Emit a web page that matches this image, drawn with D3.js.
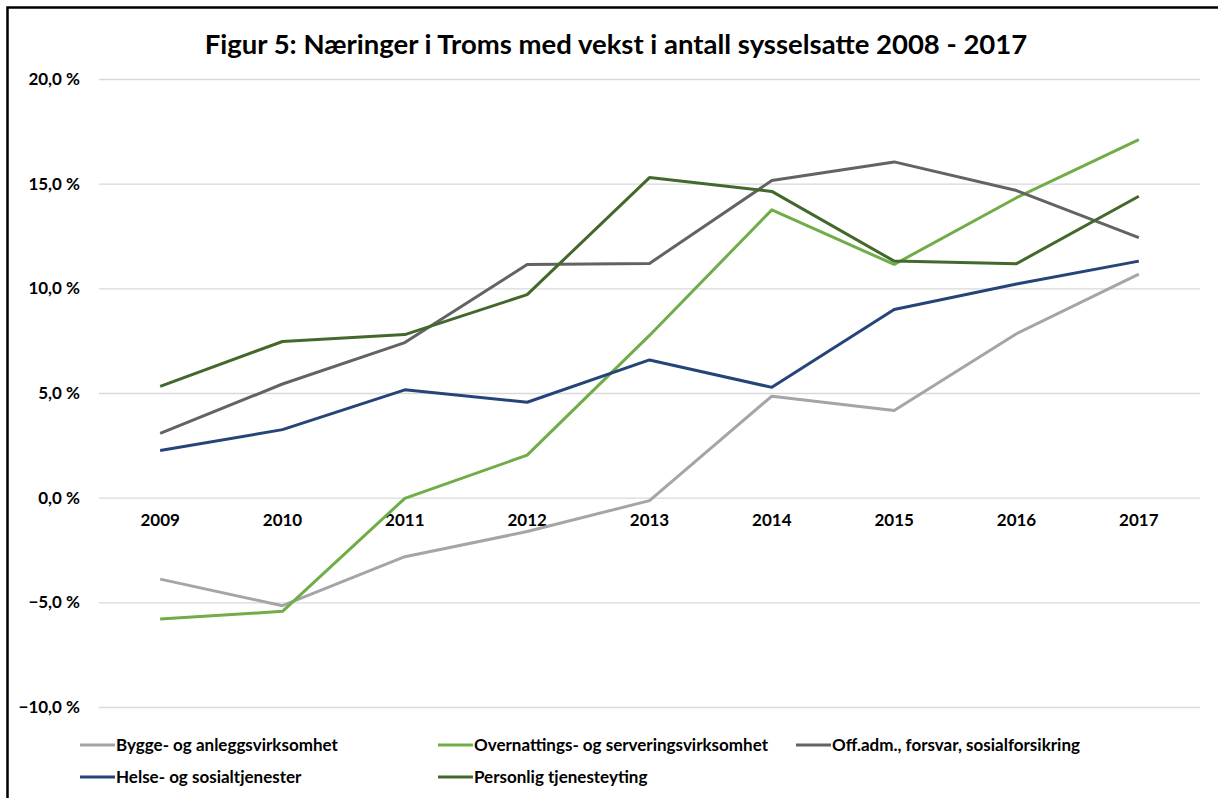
<!DOCTYPE html>
<html><head><meta charset="utf-8">
<script src="https://cdn.jsdelivr.net/npm/d3@7"></script>
<style>body{margin:0;background:#fff}svg{display:block}text{font-family:Lato,"Open Sans",sans-serif;font-weight:bold;fill:#000}</style>
</head><body><svg id="c" width="1218" height="798"></svg>
<script>
const years = ["2009","2010","2011","2012","2013","2014","2015","2016","2017"];
const seriesNames = ["Bygge- og anleggsvirksomhet","Overnattings- og serveringsvirksomhet","Off.adm., forsvar, sosialforsikring","Helse- og sosialtjenester","Personlig tjenesteyting"];
const bygge = [-3.89,-5.16,-2.82,-1.62,-0.14,4.85,4.16,7.83,10.68];
const overnatting = [-5.8,-5.43,-0.03,2.03,7.75,13.75,11.14,14.33,17.1];
const offadm = [3.07,5.43,7.41,11.14,11.19,15.15,16.04,14.67,12.42];
const helse = [2.25,3.25,5.15,4.56,6.58,5.27,8.99,10.21,11.3];
const personlig = [5.32,7.46,7.79,9.70,15.29,14.63,11.3,11.18,14.4];
const yTicks = [-10,-5,0,5,10,15,20];
const colors = ["#a5a5a5","#70ad47","#636363","#264478","#43682b"];
const allSeries = [bygge, overnatting, offadm, helse, personlig];

const svg = d3.select("#c");
svg.append("rect").attr("x",7.5).attr("y",7.5).attr("width",1240).attr("height",820)
  .attr("fill","none").attr("stroke","#000").attr("stroke-width",2.5);

const x = d3.scaleBand().domain(years).range([99,1200]);
const y = d3.scaleLinear().domain([-10,20]).range([707,79]);

svg.append("text").attr("x",616).attr("y",54).attr("text-anchor","middle")
  .style("font-size","27.5px").text("Figur 5: Næringer i Troms med vekst i antall sysselsatte 2008 - 2017");

const fmt = v => d3.format(".1f")(v).replace(".",",") + " %";
const yAxis = svg.append("g").attr("transform","translate(99,0)")
  .call(d3.axisLeft(y).tickValues(yTicks).tickSize(-1101).tickFormat(fmt));
yAxis.select(".domain").remove();
yAxis.selectAll("line").attr("stroke","#d9d9d9").attr("stroke-width",1.3);
yAxis.selectAll("text").attr("x",-19).style("font-size","17px").style("font-family","Lato,sans-serif");

const xAxis = svg.append("g").attr("transform",`translate(0,${y(0)})`)
  .call(d3.axisBottom(x).tickSize(0));
xAxis.select(".domain").remove();
xAxis.selectAll("text").attr("dy","25px").style("font-size","17px").style("font-family","Lato,sans-serif");

const line = d3.line().x((d,i)=>x(years[i])+x.bandwidth()/2).y(d=>y(d));
allSeries.forEach((s,k)=>{
  svg.append("path").datum(s).attr("d",line).attr("fill","none")
    .attr("stroke",colors[k]).attr("stroke-width",3).attr("stroke-linejoin","round");
});

const legPos = [[80,745],[438,745],[796,745],[80,777],[438,777]];
seriesNames.forEach((n,k)=>{
  const [lx,ly] = legPos[k];
  svg.append("line").attr("x1",lx).attr("x2",lx+35).attr("y1",ly).attr("y2",ly)
    .attr("stroke",colors[k]).attr("stroke-width",3);
  svg.append("text").attr("x",lx+36).attr("y",ly+6).style("font-size","17px").text(n);
});
</script></body></html>
